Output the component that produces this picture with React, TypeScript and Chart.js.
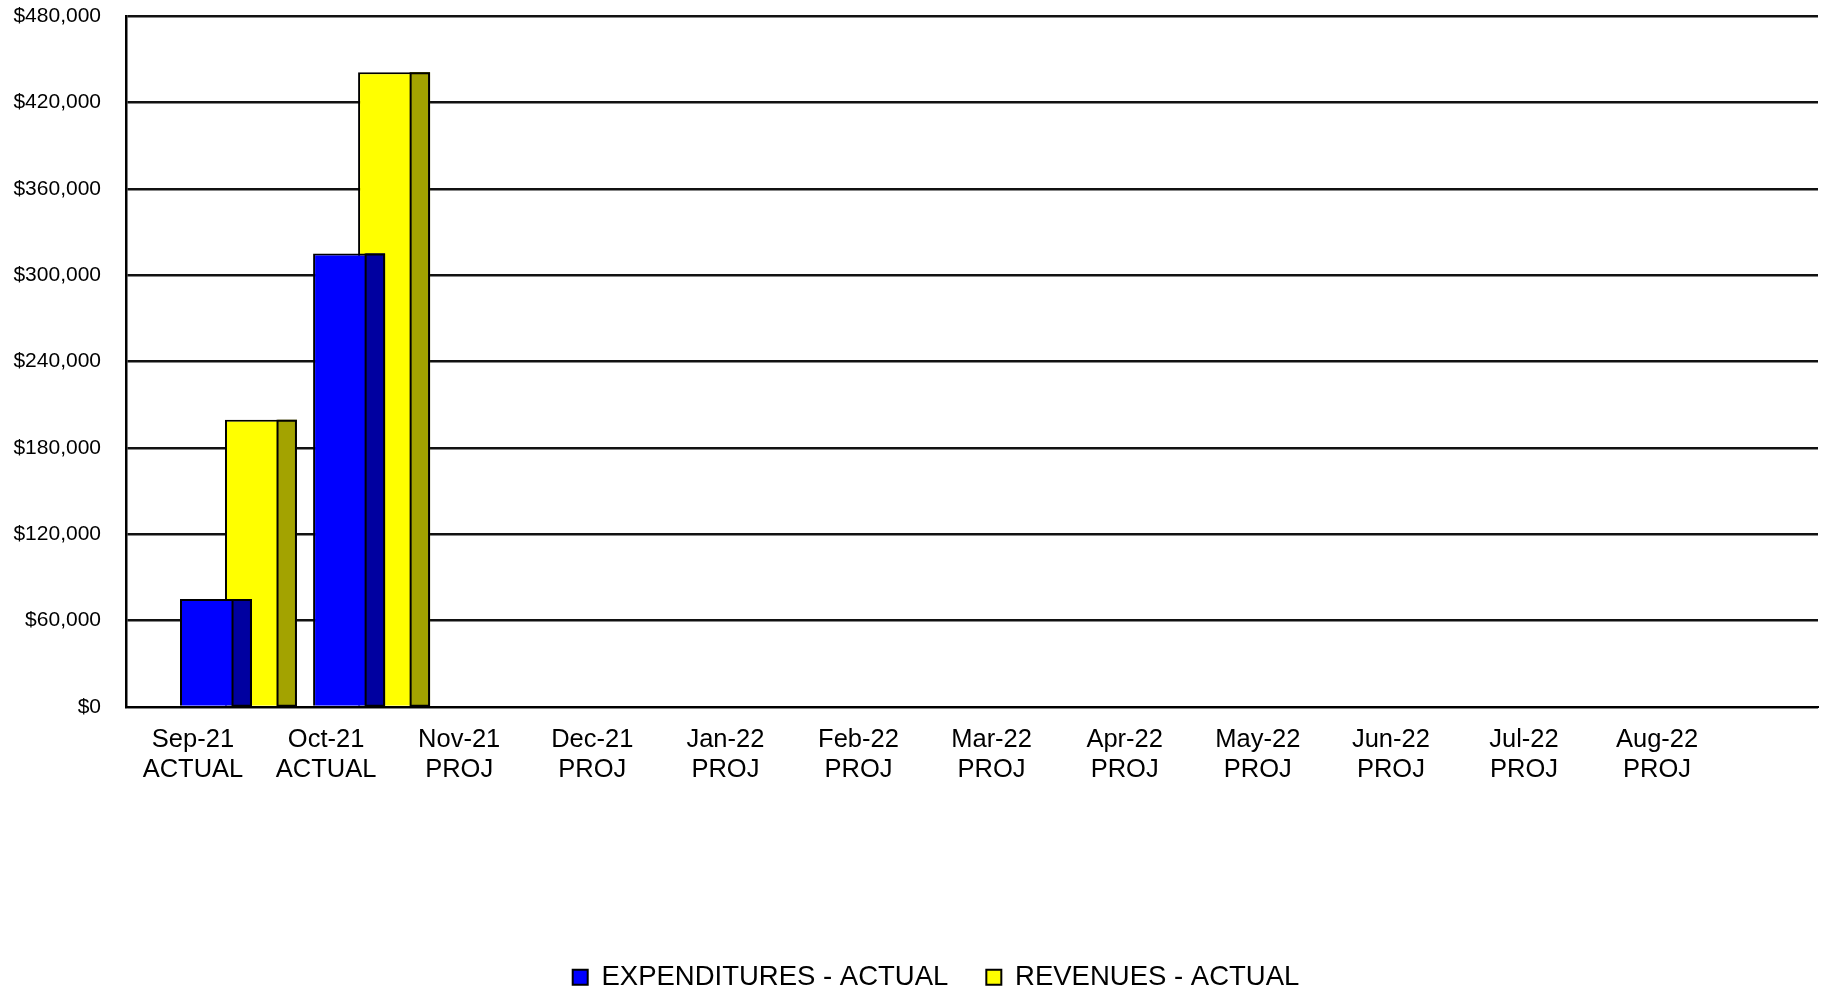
import React, { useEffect, useRef } from 'react';
import { Chart, registerables } from 'chart.js';

Chart.register(...registerables);

const months = ['Sep-21', 'Oct-21', 'Nov-21', 'Dec-21', 'Jan-22', 'Feb-22', 'Mar-22', 'Apr-22', 'May-22', 'Jun-22', 'Jul-22', 'Aug-22'];
const statuses = ['ACTUAL', 'ACTUAL', 'PROJ', 'PROJ', 'PROJ', 'PROJ', 'PROJ', 'PROJ', 'PROJ', 'PROJ', 'PROJ', 'PROJ'];
const expendituresActual: (number | null)[] = [75000, 315000, null, null, null, null, null, null, null, null, null, null];
const revenuesActual: (number | null)[] = [199500, 441000, null, null, null, null, null, null, null, null, null, null];
const yTickValues = [0, 60000, 120000, 180000, 240000, 300000, 360000, 420000, 480000];

const FONT = '"Liberation Sans", Arial, sans-serif';

const sideFacePlugin = {
  id: 'sideFace',
  afterDatasetDraw(chart: any, args: any) {
    const meta = args.meta;
    const ds: any = chart.data.datasets[args.index];
    const ctx = chart.ctx;
    meta.data.forEach((bar: any, i: number) => {
      const pt = ds.data[i];
      if (!pt || pt.y == null) return;
      const { x, y, base, width } = bar.getProps(['x', 'y', 'base', 'width'], true);
      const right = x + width / 2;
      const sw = width * 0.27;
      ctx.save();
      ctx.fillStyle = ds.sideColor;
      ctx.fillRect(right - sw, y, sw, base - y);
      ctx.strokeStyle = '#000';
      ctx.lineWidth = 2;
      ctx.beginPath();
      ctx.rect(right - sw, y + 1, sw - 1, base - y - 1);
      ctx.stroke();
      ctx.restore();
    });
  },
};

export default function App() {
  const ref = useRef<HTMLCanvasElement | null>(null);

  useEffect(() => {
    document.body.style.margin = '0';
    if (!ref.current) return;
    const toPoints = (arr: (number | null)[]) => arr.map((v, i) => ({ x: i, y: v }));
    const chart = new Chart(ref.current, {
      type: 'bar',
      data: {
        datasets: [
          {
            label: 'EXPENDITURES - ACTUAL',
            data: toPoints(expendituresActual) as any,
            backgroundColor: '#0000FF',
            borderColor: '#000000',
            borderWidth: 2,
            borderSkipped: 'start',
            sideColor: '#0000A0',
            categoryPercentage: 0.676,
            barPercentage: 1.6,
          } as any,
          {
            label: 'REVENUES - ACTUAL',
            data: toPoints(revenuesActual) as any,
            backgroundColor: '#FFFF00',
            borderColor: '#000000',
            borderWidth: 2,
            borderSkipped: 'start',
            sideColor: '#A3A300',
            categoryPercentage: 0.676,
            barPercentage: 1.6,
          } as any,
        ],
      },
      options: {
        animation: false,
        responsive: false,
        devicePixelRatio: 1,
        layout: { padding: { top: 16, right: 8, bottom: -8, left: 54 } },
        plugins: {
          tooltip: { enabled: false },
          legend: {
            position: 'bottom',
            labels: {
              font: { family: FONT, size: 27.5 },
              color: '#000',
              boxWidth: 15,
              boxHeight: 15,
              padding: 38,
            },
          },
        },
        scales: {
          x: {
            type: 'linear',
            bounds: 'data',
            offset: false,
            min: -0.845,
            max: 11.867,
            grid: { display: false, drawTicks: false },
            border: { display: true, color: '#000', width: 2 },
            afterBuildTicks: (scale: any) => {
              scale.ticks = months.map((_, i) => ({ value: i }));
            },
            afterFit: (scale: any) => {
              scale.height = 218.5;
            },
            ticks: {
              autoSkip: false,
              maxRotation: 0,
              minRotation: 0,
              padding: 18,
              labelOffset: -45.5,
              color: '#000',
              font: { family: FONT, size: 25.5, lineHeight: 1.17 },
              callback: (v: any) => {
                const i = Math.round(Number(v));
                return [months[i], statuses[i]];
              },
            },
          },
          y: {
            type: 'linear',
            min: 0,
            max: 480000,
            afterBuildTicks: (scale: any) => {
              scale.ticks = yTickValues.map((v) => ({ value: v }));
            },
            afterFit: (scale: any) => {
              scale.width = 72;
              scale.paddingTop = 12;
              scale.paddingBottom = 12;
              scale._computeLabelArea = () => undefined;
            },
            grid: { color: '#111', lineWidth: 2.5, drawTicks: false },
            border: { display: true, color: '#000', width: 2.5 },
            ticks: {
              padding: 25,
              color: '#000',
              font: { family: FONT, size: 21 },
              callback: (v: any) => '$' + Number(v).toLocaleString('en-US'),
            },
          },
        },
      } as any,
      plugins: [sideFacePlugin],
    });
    return () => chart.destroy();
  }, []);

  return (
    <div style={{ width: 1826, height: 993 }}>
      <canvas ref={ref} width={1826} height={993} style={{ display: 'block' }} />
    </div>
  );
}
